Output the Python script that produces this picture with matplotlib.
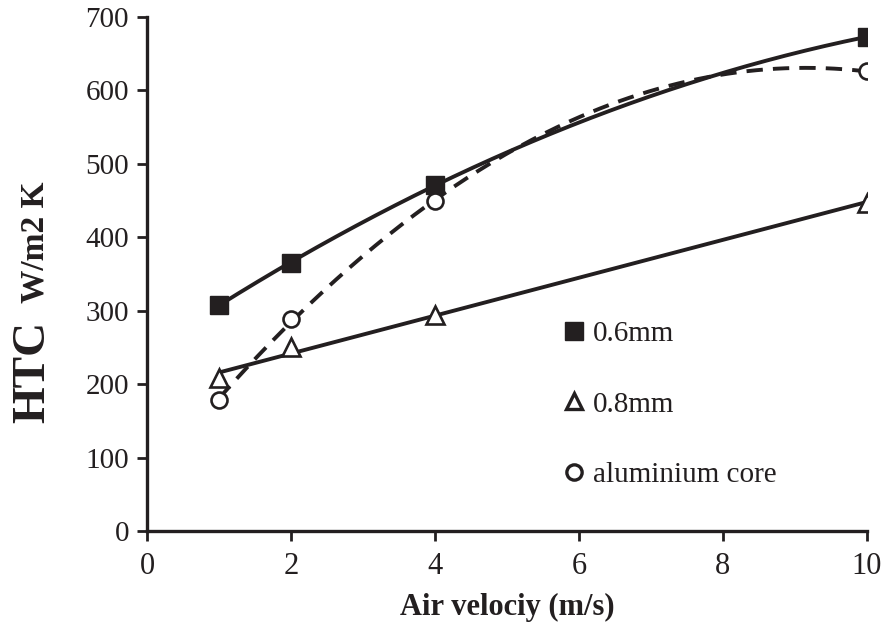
import numpy as np
import matplotlib
matplotlib.use("Agg")
import matplotlib.pyplot as plt
from matplotlib.lines import Line2D

plt.rcParams['font.family'] = ['Liberation Serif', 'DejaVu Serif']

# data
velocity = [1, 2, 4, 10]
htc_06 = [308, 365, 471, 673]
htc_08 = [208, 250, 294, 447]
htc_al = [178, 289, 449, 626]

labels = ['0.6mm', '0.8mm', 'aluminium core']
ink = '#231f20'

fig = plt.figure(figsize=(8.83, 6.3), dpi=100)
ax = fig.add_axes([147 / 883, 99 / 630, 720 / 883, 514 / 630])

# excel-style trendlines: 2nd order for 0.6mm and aluminium, linear for 0.8mm
xs = np.linspace(velocity[0], velocity[-1], 200)
fit_06 = np.polyval(np.polyfit(velocity, htc_06, 2), xs)
fit_08 = np.polyval(np.polyfit(velocity, htc_08, 1), xs)
fit_al = np.polyval(np.polyfit(velocity, htc_al, 2), xs)

ax.plot(xs, fit_06, color=ink, lw=2.8, solid_capstyle='butt')
ax.plot(xs, fit_08, color=ink, lw=2.8, solid_capstyle='butt')
ax.plot(xs, fit_al, color=ink, lw=2.8, dashes=(4.2, 2.6))

ax.plot(velocity, htc_06, ls='none', marker='s', ms=13, color=ink)
ax.plot(velocity, htc_08, ls='none', marker='^', ms=12.5, mfc='white',
        mec=ink, mew=1.9)
ax.plot(velocity, htc_al, ls='none', marker='o', ms=11.5, mfc='white',
        mec=ink, mew=1.9)

ax.set_xlim(0, 10)
ax.set_ylim(0, 700)
ax.set_xticks([0, 2, 4, 6, 8, 10])
ax.set_yticks(range(0, 701, 100))
for s in ['top', 'right']:
    ax.spines[s].set_visible(False)
for s in ['left', 'bottom']:
    ax.spines[s].set_linewidth(2.4)
    ax.spines[s].set_color(ink)
ax.tick_params(axis='both', direction='out', length=7, width=2, color=ink,
               labelcolor=ink)
ax.tick_params(axis='y', labelsize=21, pad=6)
ax.tick_params(axis='x', labelsize=22, pad=8)

ax.set_xlabel('Air velociy (m/s)', fontsize=22, fontweight='bold', color=ink,
              labelpad=9)

# y label in two sizes
fig.text(44 / 883, 1 - 423 / 630, 'HTC', rotation=90, rotation_mode='anchor',
         ha='left', va='baseline', fontsize=34, fontweight='bold', color=ink)
fig.text(43 / 883, 1 - 303 / 630, 'W/m2 K', rotation=90, rotation_mode='anchor',
         ha='left', va='baseline', fontsize=24, fontweight='bold', color=ink)

handles = [
    Line2D([], [], ls='none', marker='s', ms=13, color=ink),
    Line2D([], [], ls='none', marker='^', ms=12, mfc='white', mec=ink, mew=2.4),
    Line2D([], [], ls='none', marker='o', ms=11, mfc='white', mec=ink, mew=2.4),
]
leg = ax.legend(handles, labels, loc='upper left',
                bbox_to_anchor=(562 / 883, 1 - 321 / 630),
                bbox_transform=fig.transFigure, frameon=False, fontsize=21,
                handlelength=0.8, handletextpad=0.25, labelspacing=1.5,
                borderpad=0, borderaxespad=0)
for t in leg.get_texts():
    t.set_color(ink)

fig.savefig('out.png', dpi=100)
